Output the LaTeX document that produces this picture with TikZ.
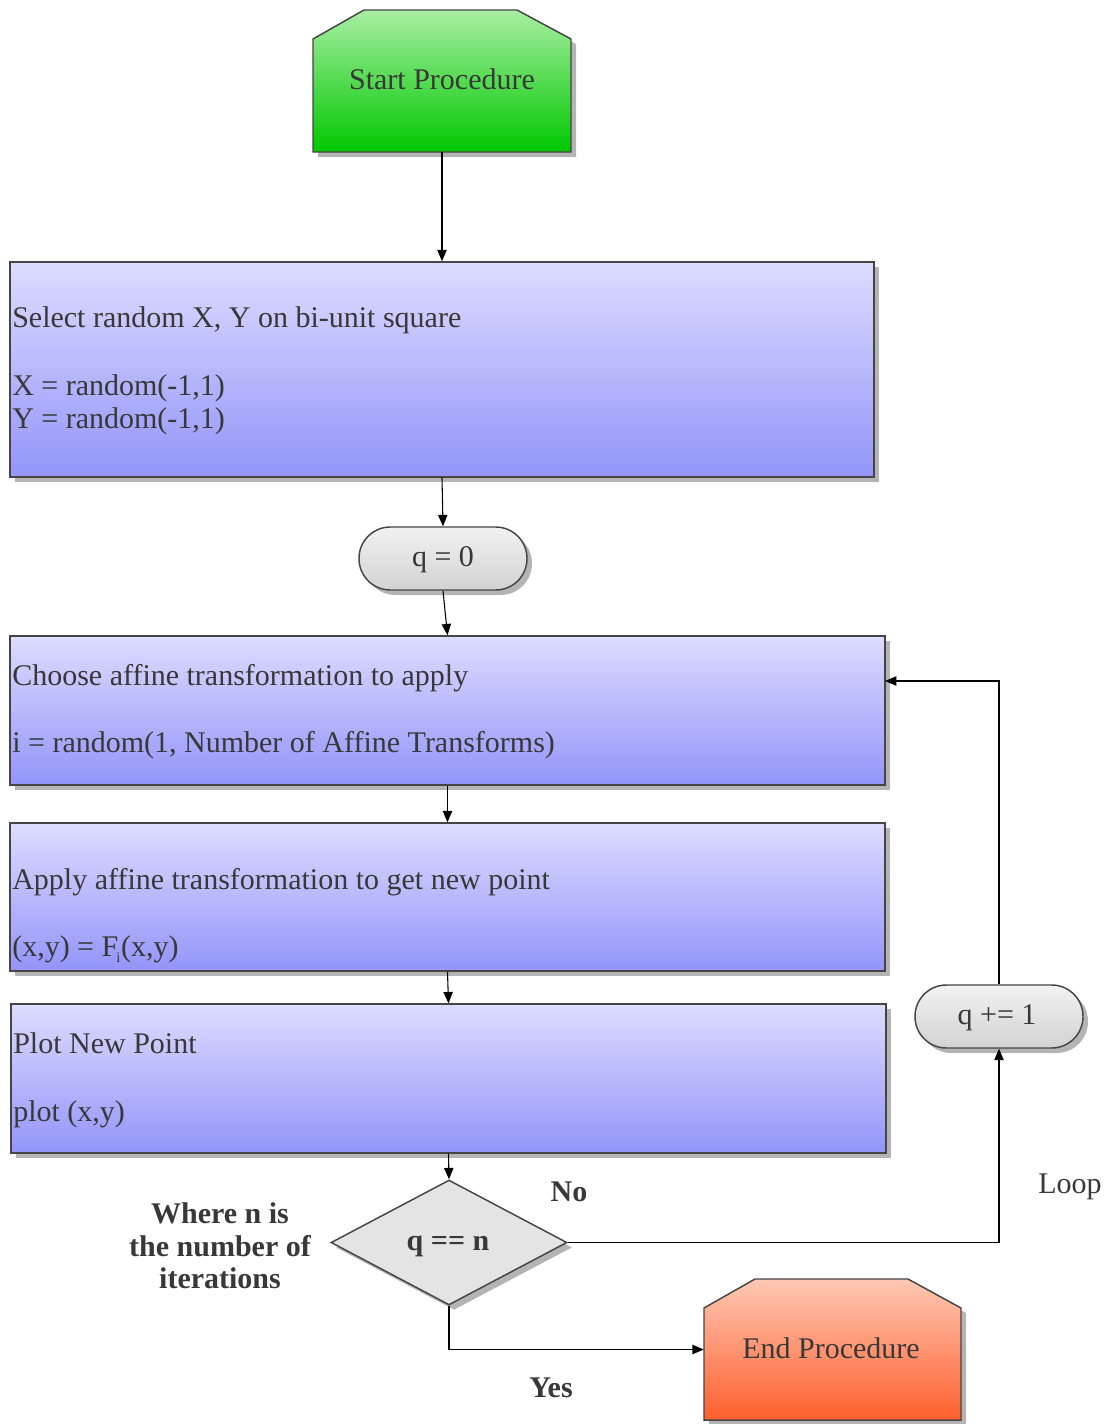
\documentclass[tikz,border=0pt]{standalone}
\usepackage{fontspec}
\setmainfont{Liberation Serif}
\usetikzlibrary{arrows.meta,shapes.geometric,shadows,fit}
\definecolor{txt}{HTML}{383838}
\definecolor{edge}{HTML}{454545}
\definecolor{shadowgray}{HTML}{B4B4B4}
\definecolor{greentop}{HTML}{A8EEA2}
\definecolor{greenbot}{HTML}{00C800}
\definecolor{bluetop}{HTML}{DCDCFF}
\definecolor{bluebot}{HTML}{9494FA}
\definecolor{pilltop}{HTML}{F2F2F2}
\definecolor{pillbot}{HTML}{D2D2D2}
\definecolor{redtop}{HTML}{FFC8B4}
\definecolor{redbot}{HTML}{FF5F2D}
\definecolor{decfill}{HTML}{E4E4E4}
\begin{document}
\begin{tikzpicture}[x=0.75pt,y=-0.75pt,
  font=\fontsize{22.5}{25}\selectfont,
  shadowed/.style={drop shadow={shadow xshift=3.75pt, shadow yshift=-3.75pt, fill=shadowgray, opacity=1}},
  box/.style={draw=edge, line width=1.1pt, top color=bluetop, bottom color=bluebot, inner sep=0pt, shadowed},
  pill/.style={draw=edge, line width=1.1pt, top color=pilltop, bottom color=pillbot, inner sep=0pt, rounded corners=23.5pt, shadowed},
  frame/.style={inner sep=0pt, draw=none},
  txtw/.style={text=txt, inner sep=0pt, anchor=base west},
  txtc/.style={text=txt, inner sep=0pt, anchor=base},
  arr/.style={draw=black, line width=0.8pt, -{Triangle[length=8.5pt,width=7pt]}},
  ln/.style={draw=black, line width=0.8pt}]
\useasboundingbox (0,0) rectangle (1111,1424);

% start terminal (chamfered top corners)
\fill[shadowgray, shift={(5,5)}] (313,39) -- (364,10) -- (517,10) -- (571,39) -- (571,152) -- (313,152) -- cycle;
\path[draw=edge, line width=1.1pt, top color=greentop, bottom color=greenbot]
  (313,39) -- (364,10) -- (517,10) -- (571,39) -- (571,152) -- (313,152) -- cycle;
\node[frame, fit={(313,10) (571,152)}] (start) {};
\node[txtc] at (442,89) {Start Procedure};

% initial random point
\node[box, fit={(10,262) (874,477)}] (b1) {};
\node[txtw] at (12,327) {Select random X, Y on bi-unit square};
\node[txtw] at (12,395) {X = random(-1,1)};
\node[txtw] at (12,428) {Y = random(-1,1)};

% counter initialisation
\node[pill, fit={(359,527) (527,590)}] (q0) {};
\node[txtc] at (443,566) {q = 0};

% choose transform
\node[box, fit={(10,636) (885,785)}] (b2) {};
\node[txtw] at (12,685) {Choose affine transformation to apply};
\node[txtw] at (12,752) {i = random(1, Number of Affine Transforms)};

% apply transform
\node[box, fit={(10,823) (885,971)}] (b3) {};
\node[txtw] at (12,889) {Apply affine transformation to get new point};
\node[txtw] at (12,956) {(x,y) = F\kern-1.5pt\raisebox{-4.5pt}{\fontsize{11}{11}\selectfont i}\kern0.5pt(x,y)};

% plot
\node[box, fit={(11,1004) (886,1153)}] (b4) {};
\node[txtw] at (13,1053) {Plot New Point};
\node[txtw] at (13,1121) {plot (x,y)};

% decision
\node[diamond, draw=edge, line width=1.1pt, fill=decfill, inner sep=0pt,
      minimum width=177pt, minimum height=93.75pt, shadowed] (dec) at (449,1242.5) {};
\node[txtc, font=\fontsize{22.5}{25}\selectfont\bfseries] at (448,1250) {q == n};

% increment
\node[pill, fit={(915,985) (1083,1048)}] (inc) {};
\node[txtc] at (997,1024) {q += 1};

% end terminal
\fill[shadowgray, shift={(5,5)}] (704,1308) -- (755,1279) -- (908,1279) -- (961,1308) -- (961,1420) -- (704,1420) -- cycle;
\path[draw=edge, line width=1.1pt, top color=redtop, bottom color=redbot]
  (704,1308) -- (755,1279) -- (908,1279) -- (961,1308) -- (961,1420) -- (704,1420) -- cycle;
\node[frame, fit={(704,1279) (961,1420)}] (endp) {};
\node[txtc] at (831,1358) {End Procedure};

% connectors
\coordinate (loopin) at (885,681);
\draw[arr] (start.south) -- (b1.north);
\draw[arr] (b1.south) -- (q0.north);
\draw[arr] (q0.south) -- (b2.north);
\draw[arr] (b2.south) -- (b3.north);
\draw[arr] (b3.south) -- (b4.north);
\draw[arr] (b4.south) -- (dec.north);
\draw[arr] (dec.east) -| (inc.south);
\draw[arr] (inc.north) |- (loopin);
\draw[arr] (dec.south) |- (endp.west);

% labels
\node[txtc, font=\fontsize{22.5}{25}\selectfont\bfseries] at (569,1201) {No};
\node[txtc, font=\fontsize{22.5}{25}\selectfont\bfseries] at (551,1397) {Yes};
\node[txtc] at (1070,1193) {Loop};
\node[txtc, font=\fontsize{22.5}{25}\selectfont\bfseries] at (220,1223) {Where n is};
\node[txtc, font=\fontsize{22.5}{25}\selectfont\bfseries] at (220,1256) {the number of};
\node[txtc, font=\fontsize{22.5}{25}\selectfont\bfseries] at (220,1288) {iterations};
\end{tikzpicture}
\end{document}
